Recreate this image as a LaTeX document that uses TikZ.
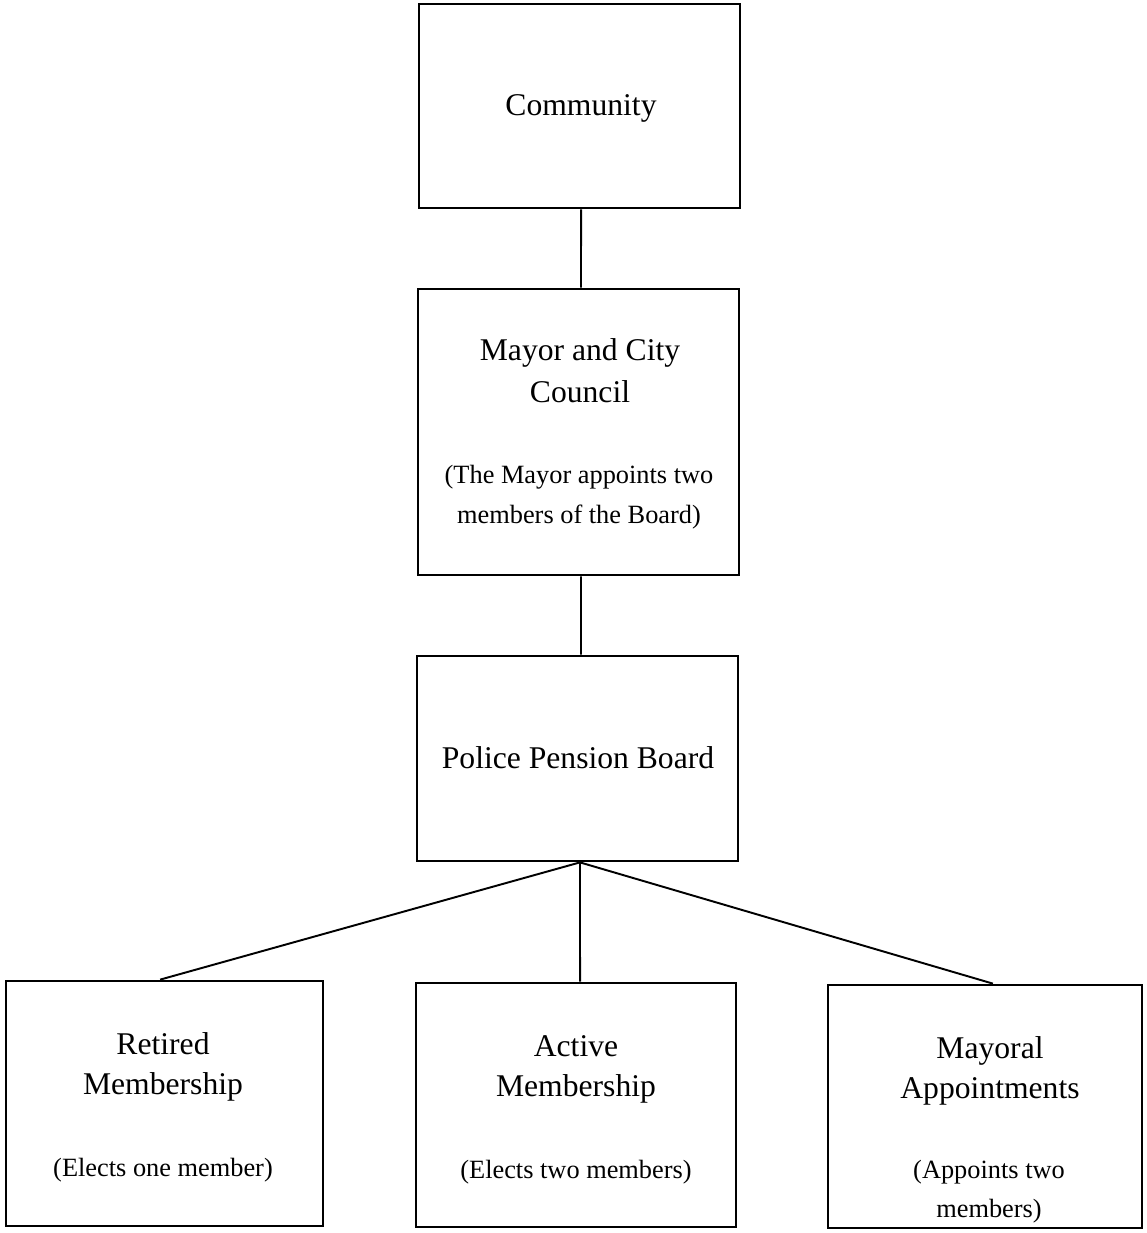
\documentclass[tikz,border=0pt]{standalone}
\usepackage{fontspec}
\setmainfont{Liberation Serif}
\usepackage{tikz}
\usetikzlibrary{positioning}
\tikzset{
  orgbox/.style={rectangle,draw,line width=1.6pt,inner sep=0pt},
  link/.style={line width=1.1pt},
  bigtxt/.style={anchor=base,inner sep=0pt,font=\fontsize{18}{22}\selectfont},
  smalltxt/.style={anchor=base,inner sep=0pt,font=\fontsize{15}{18}\selectfont}
}
\begin{document}
\begin{tikzpicture}[x=0.02cm,y=-0.02cm]
\useasboundingbox (0,0) rectangle (1146,1233);
% boxes
\node[orgbox,minimum width=6.42cm,minimum height=4.08cm] (comm) at (579.5,106) {};
\node[orgbox,minimum width=6.42cm,minimum height=5.72cm] (mayor) at (578.5,432) {};
\node[orgbox,minimum width=6.42cm,minimum height=4.10cm] (board) at (577.5,758.5) {};
\node[orgbox,minimum width=6.34cm,minimum height=4.90cm] (retired) at (164.5,1103.5) {};
\node[orgbox,minimum width=6.40cm,minimum height=4.88cm] (active) at (576,1105) {};
\node[orgbox,minimum width=6.28cm,minimum height=4.86cm] (mayoral) at (985,1106.5) {};

% texts
\node[bigtxt] (commT) at (581,116) {Community};
\node[bigtxt] (mayorT1) at (580,360) {Mayor and City};
\node[bigtxt] (mayorT2) at (580,402) {Council};
\node[smalltxt] (mayorS1) at (579,483) {(The Mayor appoints two};
\node[smalltxt] (mayorS2) at (579,523) {members of the Board)};
\node[bigtxt] (boardT) at (578,768) {Police Pension Board};
\node[bigtxt] (retiredT1) at (163,1054) {Retired};
\node[bigtxt] (retiredT2) at (163,1094) {Membership};
\node[smalltxt] (retiredS) at (163,1176) {(Elects one member)};
\node[bigtxt] (activeT1) at (576,1056) {Active};
\node[bigtxt] (activeT2) at (576,1096) {Membership};
\node[smalltxt] (activeS) at (576,1178) {(Elects two members)};
\node[bigtxt] (mayoralT1) at (990,1058) {Mayoral};
\node[bigtxt] (mayoralT2) at (990,1098) {Appointments};
\node[smalltxt] (mayoralS1) at (989,1178) {(Appoints two};
\node[smalltxt] (mayoralS2) at (989,1217) {members)};

% links
\draw[link] ([xshift=0.9pt]comm.south) -- ([xshift=1.4pt]mayor.north);
\draw[link] ([xshift=1.4pt]mayor.south) -- ([xshift=2pt]board.north);
\draw[link] ([xshift=1.4pt]board.south) -- ([xshift=-2.5pt]retired.north);
\draw[link] ([xshift=1.4pt]board.south) -- ([xshift=2.3pt]active.north);
\draw[link] ([xshift=1.4pt]board.south) -- ([xshift=4.5pt]mayoral.north);
\end{tikzpicture}
\end{document}
